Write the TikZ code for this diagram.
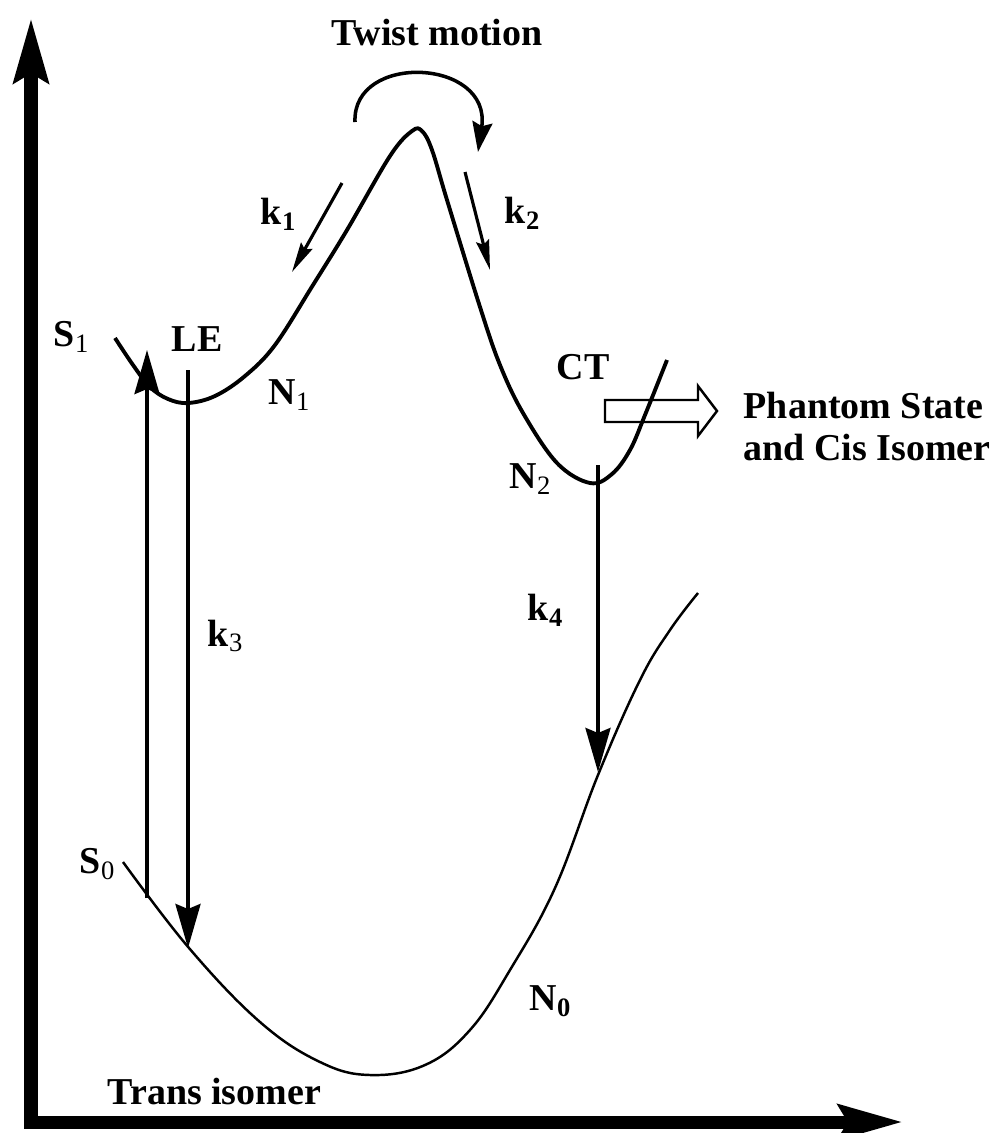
\documentclass[tikz,border=0pt]{standalone}
\usepackage{fontspec}
\setmainfont{Liberation Serif}
\usetikzlibrary{arrows.meta}

\tikzset{
  lbl/.style={font=\fontsize{10.8}{13}\selectfont\bfseries, inner sep=0pt},
  pes/.style={line width=1.1pt, line join=round},
  gnd/.style={line width=0.7pt},
  vert/.style={line width=1pt, -{Stealth[length=4.4mm, width=2.5mm, inset=0.5mm]}},
  rate/.style={line width=0.9pt, -{Stealth[length=3mm, width=1.3mm, inset=0.4mm]}},
  axis/.style={line width=3.7pt, line join=miter,
    {Stealth[length=6.4mm, width=3.4mm, inset=0.9mm]}-{Stealth[length=6.4mm, width=3.4mm, inset=0.9mm]}},
}

\begin{document}
\begin{tikzpicture}[x=0.01cm, y=-0.01cm]
    \useasboundingbox (0,0) rectangle (997,1133);

    % axes
    \coordinate (ytip) at (31,18);
    \coordinate (orig) at (31,1122);
    \coordinate (xtip) at (903,1122);
    \draw[axis] (ytip) -- (orig) -- (xtip);

    % phantom state arrow (drawn first, S1 crosses it)
    \draw[line width=0.7pt, line join=miter]
        (605,400) -- (698,400) -- (698,386) -- (717,411) -- (698,436) -- (698,422) -- (605,422) -- cycle;

    % excited state S1
    \draw[pes] plot[smooth, tension=0.6] coordinates {
        (115,338) (133,365) (150,387) (168,399) (188,403) (215,396) (245,376)
        (275,345) (313,285) (347,230) (390,156) (412,131) (422,131) (432,150)
        (447,200) (480,307) (500,365) (523,413) (557,463) (590,483) (612,474)
        (630,450) (645,415) (667,360)};

    % ground state S0
    \draw[gnd] plot[smooth, tension=0.65] coordinates {
        (123,862) (189,948) (260,1022) (320,1062) (370,1075) (425,1065)
        (470,1030) (510,970) (555,888) (598,775) (640,680) (670,630) (698,593)};

    % vertical transitions
    \coordinate (absA) at (147,898);
    \coordinate (absB) at (147,350);
    \coordinate (leA) at (188,370);
    \coordinate (leB) at (188,948);
    \coordinate (ctA) at (598,465);
    \coordinate (ctB) at (598,772);
    \draw[vert] (absA) -- (absB);
    \draw[vert] (leA) -- (leB);
    \draw[vert] (ctA) -- (ctB);

    % rates along the barrier
    \coordinate (r1a) at (342,183);
    \coordinate (r1b) at (292,272);
    \coordinate (r2a) at (465,172);
    \coordinate (r2b) at (490,270);
    \draw[rate] (r1a) -- (r1b);
    \draw[rate] (r2a) -- (r2b);

    % twist
    \coordinate (twA) at (355,122);
    \coordinate (twB) at (478,152);
    \draw[line width=1pt, -{Stealth[length=3mm, width=2mm, inset=0.4mm]}]
        (twA) .. controls (352,52) and (492,58) .. (twB);

    % labels
    \node[lbl] (twist) at (437,33) {Twist motion};
    \node[lbl] (k1) at (279,214) {k\textsubscript{1}};
    \node[lbl] (k2) at (523,213) {k\textsubscript{2}};
    \node[lbl] (s1) at (72,337) {S\textsubscript{\mdseries 1}};
    \node[lbl] (le) at (197,339) {LE};
    \node[lbl] (n1) at (290,395) {N\textsubscript{\mdseries 1}};
    \node[lbl] (ct) at (583,367) {CT};
    \node[lbl] (n2) at (531,479) {N\textsubscript{\mdseries 2}};
    \node[lbl] (k3) at (226,636) {k\textsubscript{\mdseries 3}};
    \node[lbl] (k4) at (546,610) {k\textsubscript{4}};
    \node[lbl] (s0) at (98,864) {S\textsubscript{\mdseries 0}};
    \node[lbl] (n0) at (551,1001) {N\textsubscript{0}};
    \node[lbl, anchor=base west] (trans) at (107,1104) {Trans isomer};
    \node[lbl, anchor=base west] (phantom) at (743,418) {Phantom State};
    \node[lbl, anchor=base west] (cis) at (743,460) {and Cis Isomer};
\end{tikzpicture}
\end{document}
